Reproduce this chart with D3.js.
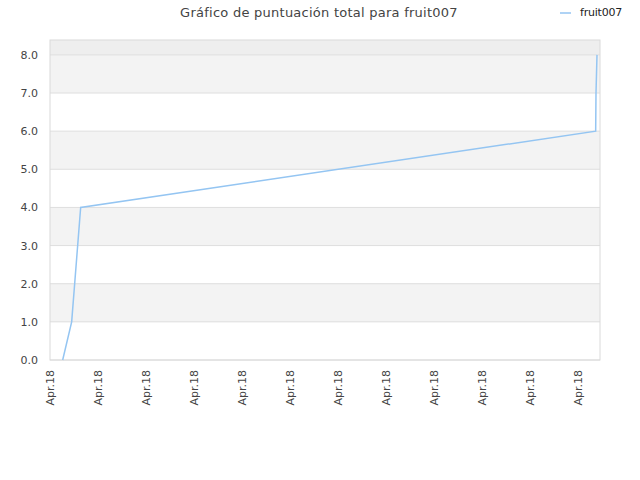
<!DOCTYPE html>
<html>
<head>
<meta charset="utf-8">
<script src="https://cdn.jsdelivr.net/npm/d3@7"></script>
<style>
  body { margin: 0; background: #fff; }
  svg text { font-family: "DejaVu Sans", sans-serif; }
</style>
</head>
<body>
<svg id="chart" width="640" height="480"></svg>
<script>
  let times = ['2018-04-01T06:20Z', '2018-04-01T10:50Z', '2018-04-01T15:20Z',
               '2018-04-12T08:50Z', '2018-04-12T09:00Z', '2018-04-12T09:30Z'];
  let scores = [0, 1, 4, 6, 7, 8];
  let yTicks = [0, 1, 2, 3, 4, 5, 6, 7, 8];
  let seriesName = 'fruit007';
  let title = 'Gráfico de puntuación total para fruit007';

  let svg = d3.select('#chart');

  let margin = { top: 40, right: 40, bottom: 120, left: 50 };
  let width = 640 - margin.left - margin.right;
  let height = 480 - margin.top - margin.bottom;

  let points = times.map((t, i) => ({ t: new Date(t), v: scores[i] }));

  let xScale = d3.scaleUtc()
    .domain([new Date('2018-04-01T00:00Z'), new Date('2018-04-12T11:00Z')])
    .range([0, width]);

  let yScale = d3.scaleLinear()
    .domain([0, 8.39])
    .range([height, 0]);

  let g = svg.append('g')
    .attr('transform', `translate(${margin.left}, ${margin.top})`);

  // alternating bands
  let bands = [0, 1, 2, 3, 4, 5, 6, 7, 8];
  g.selectAll('.band')
    .data(bands)
    .enter()
    .append('rect')
    .attr('class', 'band')
    .attr('x', 0)
    .attr('width', width)
    .attr('y', d => yScale(Math.min(d + 1, 8.39)))
    .attr('height', d => yScale(d) - yScale(Math.min(d + 1, 8.39)))
    .attr('fill', d => d === 8 ? '#eeeeee' : (d % 2 === 1 ? '#f3f3f3' : '#ffffff'));

  // grid lines
  g.selectAll('.grid')
    .data(yTicks)
    .enter()
    .append('line')
    .attr('x1', 0)
    .attr('x2', width)
    .attr('y1', d => yScale(d))
    .attr('y2', d => yScale(d))
    .attr('stroke', '#dedede')
    .attr('stroke-width', 1);

  // frame
  g.append('rect')
    .attr('x', 0)
    .attr('y', 0)
    .attr('width', width)
    .attr('height', height)
    .attr('fill', 'none')
    .attr('stroke', '#dadada');

  // y axis
  let yAxis = g.append('g')
    .call(d3.axisLeft(yScale).tickValues(yTicks).tickFormat(d3.format('.1f')).tickSize(0).tickPadding(12));
  yAxis.select('.domain').remove();
  yAxis.selectAll('text')
    .attr('fill', '#444')
    .style('font-size', '11px');

  // x axis
  let xAxis = g.append('g')
    .attr('transform', `translate(0, ${height})`)
    .call(d3.axisBottom(xScale).ticks(d3.utcDay.every(1)).tickFormat(d3.utcFormat('%b.%y')).tickSize(0));
  xAxis.select('.domain').remove();
  xAxis.selectAll('text')
    .attr('fill', '#444')
    .style('font-size', '11px')
    .attr('text-anchor', 'end')
    .attr('dy', '0.35em')
    .attr('transform', 'translate(0, 10) rotate(-90)')
    .attr('x', 0)
    .attr('y', 0);

  // line
  let line = d3.line()
    .x(d => xScale(d.t))
    .y(d => yScale(d.v));

  g.append('path')
    .datum(points)
    .attr('fill', 'none')
    .attr('stroke', '#94c5f2')
    .attr('stroke-width', 1.5)
    .attr('d', line);

  // title
  svg.append('text')
    .attr('x', 319)
    .attr('y', 17)
    .attr('text-anchor', 'middle')
    .attr('fill', '#444')
    .style('font-size', '13px')
    .style('letter-spacing', '0.25px')
    .text(title);

  // legend
  svg.append('line')
    .attr('x1', 560)
    .attr('x2', 571)
    .attr('y1', 13)
    .attr('y2', 13)
    .attr('stroke', '#94c5f2')
    .attr('stroke-width', 1.5);

  svg.append('text')
    .attr('x', 580)
    .attr('y', 16)
    .attr('fill', '#222')
    .style('font-size', '11px')
    .style('letter-spacing', '-0.2px')
    .text(seriesName);
</script>
</body>
</html>
